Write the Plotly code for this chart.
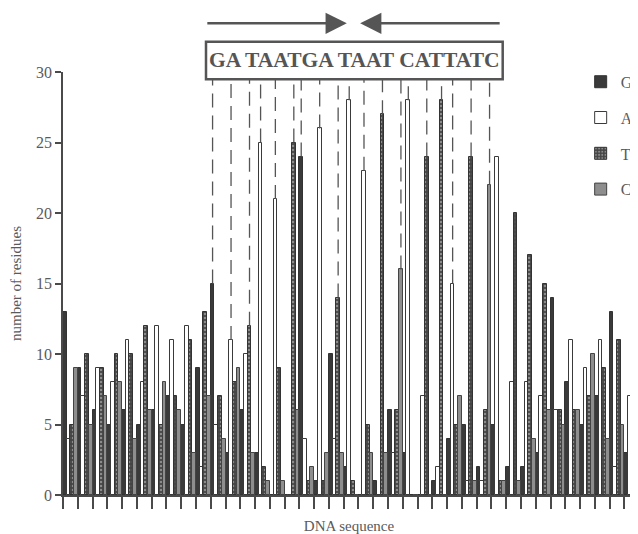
import plotly.graph_objects as go

# ---- data ----
positions = list(range(39))
G = [13, 9, 6, 5, 6, 5, 6, 7, 5, 9, 15, 3, 6, 3, 0, 0, 24, 1, 10, 2, 0, 1, 6, 3, 0,
     1, 4, 5, 2, 5, 2, 2, 3, 14, 8, 5, 7, 13, 3]
A = [4, 7, 9, 8, 11, 8, 12, 11, 12, 2, 5, 11, 10, 25, 21, 0, 4, 26, 4, 28, 23, 0, 3, 28, 7,
     2, 15, 1, 1, 24, 8, 8, 7, 6, 11, 9, 11, 2, 7]
T = [5, 10, 9, 10, 10, 12, 5, 7, 11, 13, 7, 8, 12, 2, 9, 25, 1, 1, 14, 1, 5, 27, 6, 0, 24,
     28, 5, 24, 6, 1, 20, 17, 15, 6, 6, 7, 9, 11, 10]
C = [9, 5, 7, 8, 4, 6, 8, 6, 3, 7, 4, 9, 3, 1, 1, 6, 2, 3, 3, 0, 3, 3, 16, 0, 0,
     0, 7, 1, 22, 1, 1, 4, 6, 5, 6, 10, 4, 5, 8]
series_names = ["G", "A", "T", "C"]
motif = "GATAATGATAATCATTATC"
motif_label = "GA TAATGA TAAT CATTATC"
motif_start = 10
y_ticks = [0, 5, 10, 15, 20, 25, 30]

FONT = "Liberation Serif, Times New Roman, serif"
INK = "#4a4a4a"
TXT = "#5a5a5a"

fig = go.Figure()
fig.add_bar(x=positions, y=G, name="G", legendgroup="g",
            marker=dict(color="#3a3a3a", line=dict(color="#333333", width=1)))
fig.add_bar(x=positions, y=A, name="A", legendgroup="a",
            marker=dict(color="white", line=dict(color="#3a3a3a", width=1)))
fig.add_bar(x=positions, y=T, name="T", legendgroup="t",
            marker=dict(color="#454545", line=dict(color="#333333", width=1),
                        pattern=dict(shape=".", fgcolor="#cfcfcf", bgcolor="#454545",
                                     size=4, solidity=0.3)))
fig.add_bar(x=positions, y=C, name="C", legendgroup="c",
            marker=dict(color="#8e8e8e", line=dict(color="#444444", width=1)))

values = {"G": G, "A": A, "T": T, "C": C}
shapes = []
for i, letter in enumerate(motif):
    k = motif_start + i
    s = series_names.index(letter)
    xpos = k - 0.375 + 0.25 * s
    shapes.append(dict(type="line", xref="x", yref="y", x0=xpos, x1=xpos,
                       y0=values[letter][k], y1=29.45,
                       line=dict(color="#555555", width=1.3, dash="14px,8px")))

# motif box
shapes.append(dict(type="rect", xref="paper", yref="paper",
                   x0=0.25, x1=0.7687, y0=0.983, y1=1.0716,
                   line=dict(color="#555555", width=2.5), fillcolor="white", layer="above"))

annotations = [
    dict(text="<b>%s</b>" % motif_label, xref="paper", yref="paper", x=0.5094, y=1.0277,
         xanchor="center", yanchor="middle",
         showarrow=False, font=dict(family=FONT, size=21.5, color="#555555")),
    dict(text="", xref="paper", yref="paper", x=0.4962, y=1.1151, ax=-141, ay=0,
         showarrow=True, arrowhead=2, arrowsize=1.7, arrowwidth=2.5, arrowcolor="#555555"),
    dict(text="", xref="paper", yref="paper", x=0.5195, y=1.1151, ax=141, ay=0,
         showarrow=True, arrowhead=2, arrowsize=1.7, arrowwidth=2.5, arrowcolor="#555555"),
]

# the page body adds an 8 px margin, so the figure is 8 px smaller than the window
fig.update_layout(
    width=630, height=526,
    margin=dict(l=55, r=0, t=64, b=39),
    paper_bgcolor="white", plot_bgcolor="white",
    barmode="group", bargap=0, bargroupgap=0,
    font=dict(family=FONT, color=TXT, size=15),
    showlegend=True,
    legend=dict(x=0.905, y=1.017, xanchor="left", yanchor="top",
                font=dict(family=FONT, size=16, color=TXT),
                bgcolor="rgba(0,0,0,0)", tracegroupgap=12, itemwidth=30),
    shapes=shapes, annotations=annotations,
    xaxis=dict(range=[-0.5, 38.22], tickmode="array",
               tickvals=[p - 0.5 for p in positions] + [positions[-1] + 0.5],
               ticktext=[""] * (len(positions) + 1),
               ticks="outside", ticklen=12, tickwidth=1.5, tickcolor=INK,
               showline=True, linecolor=INK, linewidth=1.5, showgrid=False, zeroline=False,
               title=dict(text="DNA sequence", font=dict(family=FONT, size=15, color=TXT),
                          standoff=13)),
    yaxis=dict(range=[0, 30], tickmode="array", tickvals=y_ticks,
               ticks="outside", ticklen=6, tickwidth=1.5, tickcolor=INK,
               showline=True, linecolor=INK, linewidth=1.5, showgrid=False, zeroline=False,
               tickfont=dict(family=FONT, size=16, color=TXT),
               title=dict(text="number of residues", font=dict(family=FONT, size=15, color=TXT),
                          standoff=12)),
)

fig.write_html("out.html")
